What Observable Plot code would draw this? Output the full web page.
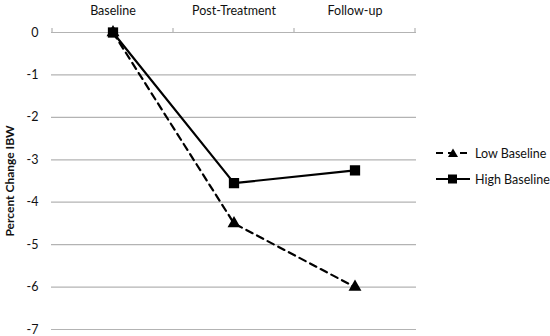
<!DOCTYPE html>
<html><head><meta charset="utf-8">
<script src="https://cdn.jsdelivr.net/npm/d3@7"></script>
<script src="https://cdn.jsdelivr.net/npm/@observablehq/plot@0.6"></script>
<style>
body{margin:0;background:#fff;font-family:Lato,"Open Sans",sans-serif;}
#wrap{position:relative;width:550px;height:336px;}
#legend{position:absolute;left:436px;top:140px;font-size:12.5px;color:#111;}
#legend div{display:flex;align-items:center;height:26px;}
#legend svg{margin-right:3px;}
</style></head>
<body><div id="wrap"><div id="legend"></div></div>
<script>
const timepoints = ["Baseline", "Post-Treatment", "Follow-up"];
const lowBaseline = [0, -4.5, -6.0];
const highBaseline = [0, -3.55, -3.25];
const seriesNames = ["Low Baseline", "High Baseline"];
const yTicks = [0, -1, -2, -3, -4, -5, -6, -7];

const low = timepoints.map((t, i) => ({t, v: lowBaseline[i]}));
const high = timepoints.map((t, i) => ({t, v: highBaseline[i]}));

const plot = Plot.plot({
  width: 550, height: 336,
  marginLeft: 51, marginRight: 134, marginTop: 32, marginBottom: 7,
  style: {fontFamily: "Lato, 'Open Sans', sans-serif", fontSize: "12.5px", color: "#111"},
  x: {type: "band", domain: timepoints, axis: "top", tickSize: 0, tickPadding: 18, label: null, padding: 0},
  y: {domain: [-7, 0], ticks: yTicks, tickSize: 0, tickPadding: 13, label: null, tickFormat: d => String(d)},
  marks: [
    Plot.ruleY(yTicks, {stroke: "#b3b3b3", strokeWidth: 1.2}),
    Plot.ruleX([0], {frameAnchor: "left", stroke: "#b3b3b3", strokeWidth: 1.2}),
    Plot.line(low, {x: "t", y: "v", stroke: "#000", strokeWidth: 2.2, strokeDasharray: "7,5"}),
    Plot.line(high, {x: "t", y: "v", stroke: "#000", strokeWidth: 2.2}),
    Plot.dot(low, {x: "t", y: "v", symbol: "triangle", r: 4.8, fill: "#000"}),
    Plot.dot(high, {x: "t", y: "v", symbol: "square", r: 5.8, fill: "#000"}),
    Plot.text(["Percent Change IBW"], {frameAnchor: "left", textAnchor: "middle", dx: -41, rotate: -90, fontWeight: "bold", fontSize: 12, fill: "#111"})
  ]
});
document.getElementById("wrap").prepend(plot);

// top tick marks at band boundaries
const xs = plot.scale("x");
const ys = plot.scale("y");
const bounds = xs.domain.map(d => xs.apply(d)).concat([xs.apply(xs.domain.at(-1)) + xs.bandwidth]);
d3.select(plot).append("g").selectAll("line").data(bounds).join("line")
  .attr("x1", d => d).attr("x2", d => d)
  .attr("y1", ys.apply(0) - 4).attr("y2", ys.apply(0))
  .attr("stroke", "#b3b3b3").attr("stroke-width", 1.2);

// legend
const leg = d3.select("#legend");
seriesNames.forEach((name, i) => {
  const row = leg.append("div");
  const s = row.append("svg").attr("width", 36).attr("height", 12);
  s.append("line").attr("x1", 0).attr("x2", 34).attr("y1", 6).attr("y2", 6)
    .attr("stroke", "#000").attr("stroke-width", 2.2)
    .attr("stroke-dasharray", i === 0 ? "7,5" : null);
  if (i === 0) s.append("path").attr("d", "M17,1.5 L22,10 L12,10 Z").attr("fill", "#000");
  else s.append("rect").attr("x", 12).attr("y", 1.5).attr("width", 9).attr("height", 9).attr("fill", "#000");
  row.append("span").text(name);
});
</script></body></html>
